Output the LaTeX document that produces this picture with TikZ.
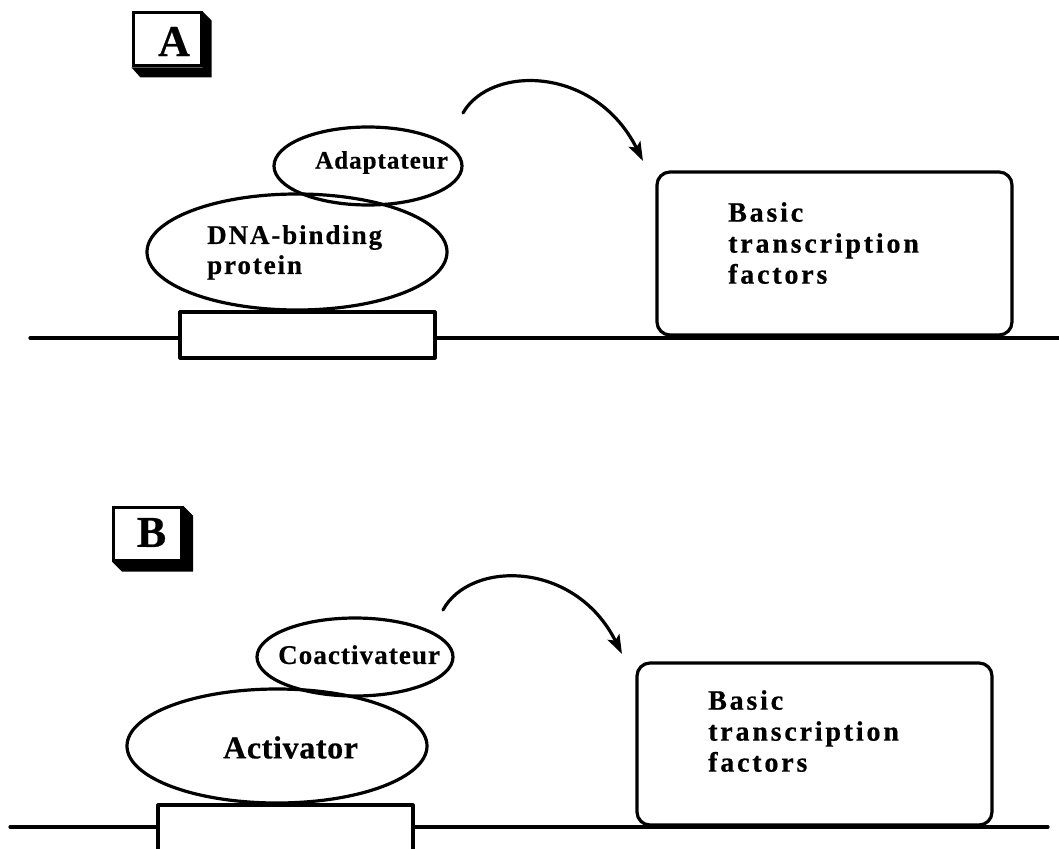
\documentclass[tikz,border=0pt]{standalone}
\usepackage{fontspec}
\setmainfont{Liberation Serif}
\newfontfamily\trackXS[LetterSpace=2,FakeBold=0.5]{Liberation Serif}
\newfontfamily\trackS[LetterSpace=4,FakeBold=0.5]{Liberation Serif}
\newfontfamily\trackM[LetterSpace=7,FakeBold=0.5]{Liberation Serif}
\newfontfamily\trackL[LetterSpace=10,FakeBold=0.6]{Liberation Serif}
\newfontfamily\heavyserif[FakeBold=0.5]{Liberation Serif}
\usetikzlibrary{shapes.geometric,arrows.meta,calc}

\tikzset{
  heavy/.style={line width=3.2pt, line cap=round, line join=round},
  dnabox/.style={draw, heavy, fill=white, rectangle, inner sep=0pt},
  protein/.style={draw, heavy, ellipse, inner sep=0pt},
  tfbox/.style={draw, heavy, rectangle, rounded corners=13pt, inner sep=0pt},
  txt/.style={inner sep=0pt, align=left, anchor=north west},
  panel/.style={draw, line width=3pt, fill=white, rectangle, inner sep=0pt,
                minimum width=68pt, minimum height=53pt},
  paneltxt/.style={inner sep=0pt, font=\fontsize{44}{44}\selectfont\heavyserif\bfseries},
  curvearrow/.style={heavy, -{Stealth[length=19pt,width=13pt,inset=4pt]}},
}

\begin{document}
\begin{tikzpicture}[x=1pt,y=-1pt]
\useasboundingbox (0,0) rectangle (1059,848);
\fill[white] (0,0) rectangle (1059,848);

% ---------------- Panel A ----------------
\node[panel] (labA) at (167,39.5) {};
\fill (labA.north east) -- ($(labA.north east)+(9,9)$) -- ($(labA.south east)+(9,10)$)
      -- ($(labA.south west)+(9,10)$) -- (labA.south west) -- (labA.south east) -- cycle;
\node[paneltxt] (labAT) at ($(labA.center)+(7,2)$) {A};

\coordinate (lineAL) at (30,338);
\coordinate (lineAR) at (1059,338);
\draw[heavy] (lineAL) -- (lineAR);
\node[dnabox, minimum width=255pt, minimum height=46pt] (siteA) at (307.5,335) {};

\node[protein, minimum width=300pt, minimum height=116pt] (dbp) at (297,252) {};
\node[txt, font=\fontsize{27}{30}\selectfont\trackM\bfseries] (dbpT) at (207,225) {DNA-binding\\protein};
\node[protein, minimum width=188pt, minimum height=78pt] (adapt) at (368,166) {};
\node[txt, font=\fontsize{25}{25}\selectfont\trackS\bfseries] (adaptT) at (315,151) {Adaptateur};

\node[tfbox, minimum width=355pt, minimum height=163pt] (btfA) at (834.5,253.5) {};
\node[txt, font=\fontsize{28}{31}\selectfont\trackL\bfseries] (btfAT) at (728,202)
  {Basic\\transcription\\factors};

\coordinate (arrAS) at (463,113);
\coordinate (arrAE) at (643,161);
\draw[curvearrow] (arrAS) .. controls (490,65) and (595,65) .. (arrAE);

% ---------------- Panel B ----------------
\node[panel] (labB) at (147.5,533.5) {};
\fill (labB.north east) -- ($(labB.north east)+(10,10)$) -- ($(labB.south east)+(10,10)$)
      -- ($(labB.south west)+(10,10)$) -- (labB.south west) -- (labB.south east) -- cycle;
\node[paneltxt] (labBT) at ($(labB.center)+(4,-1)$) {B};

\coordinate (lineBL) at (10,827);
\coordinate (lineBR) at (1048,827);
\draw[heavy] (lineBL) -- (lineBR);
\begin{scope}
  \clip (0,0) rectangle (1059,848);
  \node[dnabox, minimum width=255pt, minimum height=90pt] (siteB) at (285.5,850) {};
\end{scope}

\node[protein, minimum width=300pt, minimum height=114pt] (act) at (277,746) {};
\node[txt, font=\fontsize{32}{32}\selectfont\trackXS\bfseries] (actT) at (223,736) {Activator};
\node[protein, minimum width=196pt, minimum height=78pt] (coact) at (355,657) {};
\node[txt, font=\fontsize{27}{27}\selectfont\trackS\bfseries] (coactT) at (278,645) {Coactivateur};

\node[tfbox, minimum width=355pt, minimum height=162pt] (btfB) at (814.5,744) {};
\node[txt, font=\fontsize{28}{31}\selectfont\trackL\bfseries] (btfBT) at (708,690)
  {Basic\\transcription\\factors};

\coordinate (arrBS) at (443,610);
\coordinate (arrBE) at (622,654);
\draw[curvearrow] (arrBS) .. controls (470,560) and (575,560) .. (arrBE);
\end{tikzpicture}
\end{document}
